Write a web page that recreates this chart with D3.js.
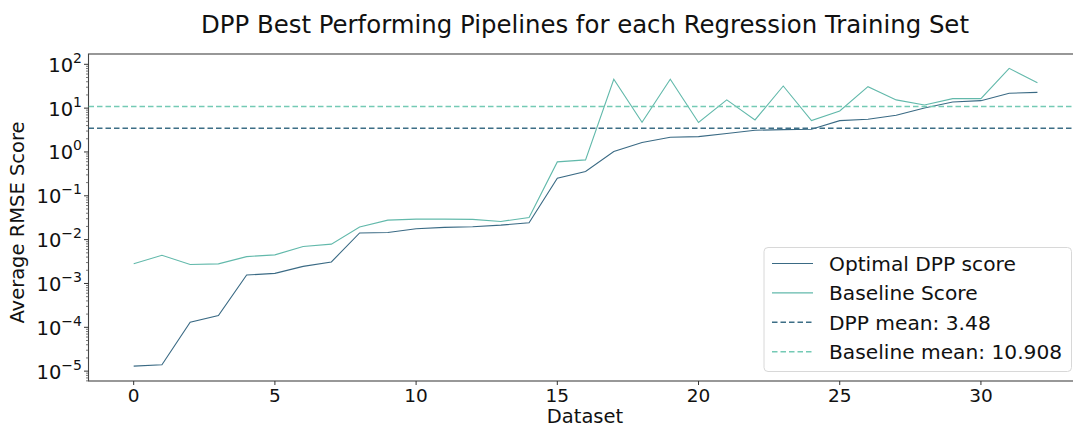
<!DOCTYPE html>
<html>
<head>
<meta charset="utf-8">
<script src="https://cdn.jsdelivr.net/npm/d3@7"></script>
<style>
  html, body { margin: 0; padding: 0; background: #fff; }
  svg { display: block; font-family: "DejaVu Sans", sans-serif; }
</style>
</head>
<body>
<svg id="chart" width="1073" height="428"></svg>
<script>
// Dataset indices on the x axis
const datasets = [0,1,2,3,4,5,6,7,8,9,10,11,12,13,14,15,16,17,18,19,20,21,22,23,24,25,26,27,28,29,30,31,32];

// Average RMSE of the best DPP pipeline per training set
const dppScores = [1.3e-5, 1.4e-5, 1.3e-4, 1.85e-4, 1.56e-3, 1.7e-3, 2.45e-3, 3.1e-3,
  0.0142, 0.0146, 0.0177, 0.019, 0.0197, 0.0214, 0.0243, 0.253, 0.358,
  1.02, 1.64, 2.17, 2.24, 2.63, 3.13, 3.24, 3.3, 5.19, 5.57, 6.87, 10.1, 13.8, 14.8, 21.8, 22.9];

// Average RMSE of the baseline pipeline per training set
const baselineScores = [2.83e-3, 4.4e-3, 2.7e-3, 2.8e-3, 4.1e-3, 4.5e-3, 7.0e-3, 7.9e-3,
  0.0194, 0.0279, 0.0294, 0.0294, 0.029, 0.026, 0.032, 0.594, 0.66,
  45.5, 4.77, 45.5, 4.7, 15.4, 5.38, 32.0, 5.2, 8.63, 30.9, 15.4, 11.8, 16.5, 16.5, 81, 38];

const dppMean = 3.48;
const baselineMean = 10.908;

const xTicks = [0, 5, 10, 15, 20, 25, 30];
const yTickExponents = [-5, -4, -3, -2, -1, 0, 1, 2];

const legendLabels = ["Optimal DPP score", "Baseline Score", "DPP mean: 3.48", "Baseline mean: 10.908"];

const colDpp = "#3a6a84";
const colBase = "#62b9ab";
const colDppMean = "#3d6e86";
const colBaseMean = "#74cab5";

const svg = d3.select("#chart");
const plot = { left: 88.5, right: 1082.6, top: 54, bottom: 381 };

const x = d3.scaleLinear().domain([-1.6, 33.6]).range([plot.left, plot.right]);
const y = d3.scaleLog().domain([Math.pow(10, -5.225), Math.pow(10, 2.235)]).range([plot.bottom, plot.top]);

// Title
svg.append("text")
  .attr("x", 585).attr("y", 33)
  .attr("text-anchor", "middle")
  .attr("font-size", 24.4)
  .attr("fill", "#111")
  .text("DPP Best Performing Pipelines for each Regression Training Set");

// Frame
svg.append("rect")
  .attr("x", plot.left).attr("y", plot.top)
  .attr("width", plot.right - plot.left).attr("height", plot.bottom - plot.top)
  .attr("fill", "none").attr("stroke", "#444").attr("stroke-width", 1.1);

// X axis ticks and labels
const xg = svg.append("g");
xTicks.forEach(t => {
  xg.append("line")
    .attr("x1", x(t)).attr("x2", x(t))
    .attr("y1", plot.bottom).attr("y2", plot.bottom + 4)
    .attr("stroke", "#333").attr("stroke-width", 1);
  xg.append("text")
    .attr("x", x(t)).attr("y", 402)
    .attr("text-anchor", "middle")
    .attr("font-size", 18.5).attr("fill", "#111")
    .text(t);
});

// Y axis: major ticks with power-of-ten labels, minor ticks between
const yg = svg.append("g");
const minorTick = mv => {
  yg.append("line")
    .attr("x1", plot.left - 2.5).attr("x2", plot.left)
    .attr("y1", y(mv)).attr("y2", y(mv))
    .attr("stroke", "#555").attr("stroke-width", 0.8);
};
yTickExponents.forEach((e, k) => {
  const v = Math.pow(10, e);
  const yy = y(v);
  yg.append("line")
    .attr("x1", plot.left - 4.5).attr("x2", plot.left)
    .attr("y1", yy).attr("y2", yy)
    .attr("stroke", "#333").attr("stroke-width", 1);
  const t = yg.append("text")
    .attr("x", 82).attr("y", yy + 7.5)
    .attr("text-anchor", "end")
    .attr("font-size", 19.5).attr("fill", "#111");
  t.append("tspan").text("10");
  t.append("tspan")
    .attr("dy", -9).attr("font-size", 14)
    .text(e < 0 ? "\u2212" + Math.abs(e) : String(e));
  for (let m = 2; m <= 9; m++) {
    if (m * v <= y.domain()[1]) minorTick(m * v);
  }
  if (k === 0) {
    for (let m = 2; m <= 9; m++) {
      if (m * v / 10 >= y.domain()[0]) minorTick(m * v / 10);
    }
  }
});

// Axis titles
svg.append("text")
  .attr("x", 585).attr("y", 423)
  .attr("text-anchor", "middle")
  .attr("font-size", 19.5).attr("fill", "#111")
  .text("Dataset");

svg.append("text")
  .attr("transform", "translate(24," + ((plot.top + plot.bottom) / 2 + 5) + ") rotate(-90)")
  .attr("text-anchor", "middle")
  .attr("font-size", 19.5).attr("fill", "#111")
  .text("Average RMSE Score");

// Data lines, clipped to the axes box
svg.append("clipPath").attr("id", "plotclip")
  .append("rect").attr("x", plot.left).attr("y", plot.top)
  .attr("width", plot.right - plot.left).attr("height", plot.bottom - plot.top);

const g = svg.append("g").attr("clip-path", "url(#plotclip)");

const line = d3.line().x((d, i) => x(datasets[i])).y(d => y(d));

g.append("path").datum(dppScores)
  .attr("d", line).attr("fill", "none")
  .attr("stroke", colDpp).attr("stroke-width", 1.1);

g.append("path").datum(baselineScores)
  .attr("d", line).attr("fill", "none")
  .attr("stroke", colBase).attr("stroke-width", 1.1);

// Mean reference lines
g.append("line")
  .attr("x1", plot.left).attr("x2", plot.right)
  .attr("y1", y(dppMean)).attr("y2", y(dppMean))
  .attr("stroke", colDppMean).attr("stroke-width", 1.6)
  .attr("stroke-dasharray", "5.5,3");

g.append("line")
  .attr("x1", plot.left).attr("x2", plot.right)
  .attr("y1", y(baselineMean)).attr("y2", y(baselineMean))
  .attr("stroke", colBaseMean).attr("stroke-width", 1.6)
  .attr("stroke-dasharray", "5.5,3");

// Legend
const lg = svg.append("g");
lg.append("rect")
  .attr("x", 764).attr("y", 247.5)
  .attr("width", 307.5).attr("height", 124)
  .attr("rx", 4)
  .attr("fill", "#fff").attr("fill-opacity", 0.85)
  .attr("stroke", "#d8d8d8").attr("stroke-width", 1);

const legendStyles = [
  { color: colDpp, width: 1.1, dash: null },
  { color: colBase, width: 1.1, dash: null },
  { color: colDppMean, width: 1.6, dash: "5.5,3" },
  { color: colBaseMean, width: 1.6, dash: "5.5,3" }
];

legendLabels.forEach((lab, i) => {
  const yy = 263.5 + i * 29.4;
  const s = legendStyles[i];
  const ln = lg.append("line")
    .attr("x1", 772).attr("x2", 813)
    .attr("y1", yy).attr("y2", yy)
    .attr("stroke", s.color).attr("stroke-width", s.width);
  if (s.dash) ln.attr("stroke-dasharray", s.dash);
  lg.append("text")
    .attr("x", 829).attr("y", yy + 7.3)
    .attr("font-size", 20.2).attr("fill", "#111")
    .text(lab);
});
</script>
</body>
</html>
